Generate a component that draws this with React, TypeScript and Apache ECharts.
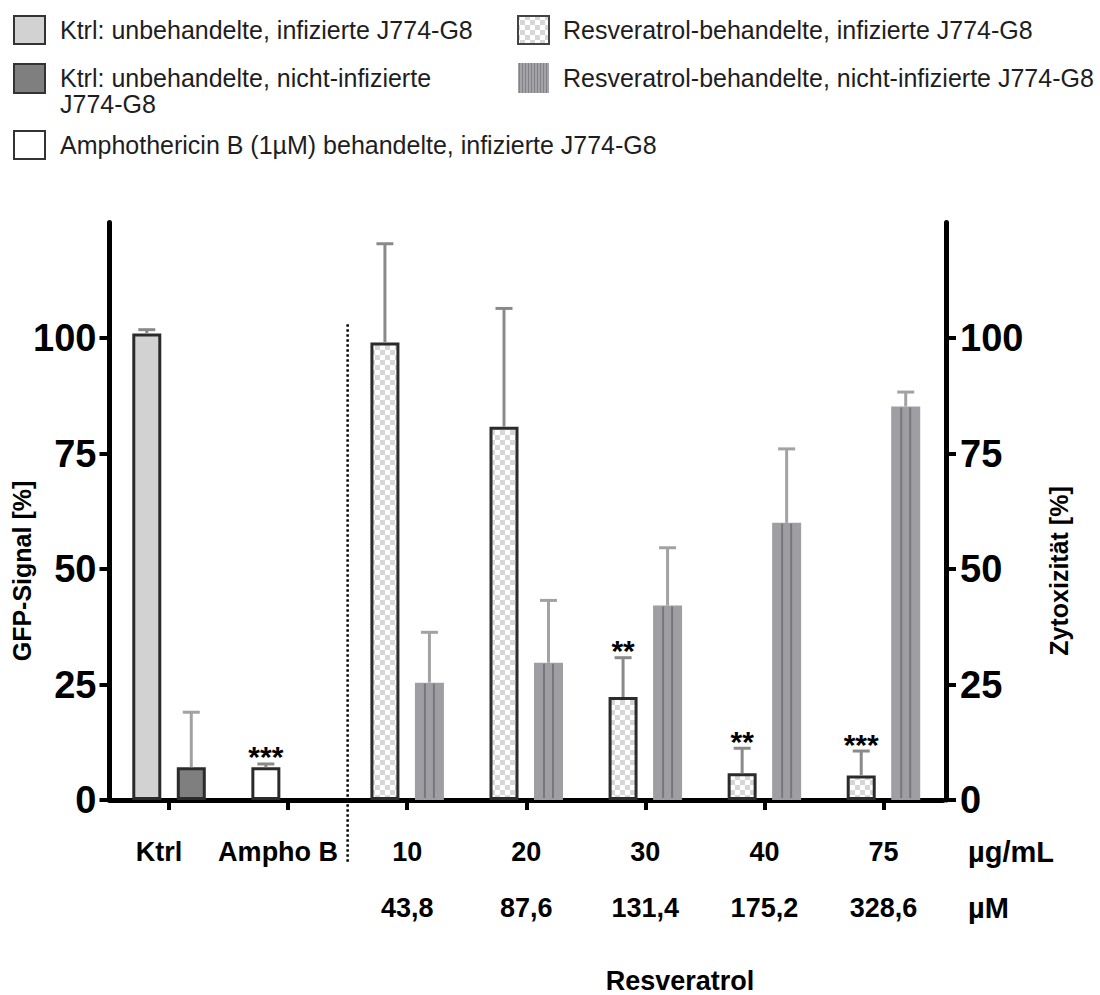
import React, { useEffect, useRef } from 'react';
import * as echarts from 'echarts';

// ---- data -------------------------------------------------------------
const categories = ['Ktrl', 'Ampho B', '10', '20', '30', '40', '75'];
const concentrationsMicroMolar = ['', '', '43,8', '87,6', '131,4', '175,2', '328,6'];

// GFP signal of infected J774-G8 cells (left axis)
const gfpSignal = [101.0, 7.1, 99.0, 80.8, 22.3, 5.8, 5.3];
const gfpSignalError = [0.8, 0.7, 21.4, 25.6, 8.5, 5.4, 5.3];

// cytotoxicity on non-infected J774-G8 cells (right axis)
const cytotoxicity: (number | null)[] = [7.1, null, 25.4, 29.7, 42.1, 60.0, 85.2];
const cytotoxicityError: (number | null)[] = [11.9, null, 10.9, 13.5, 12.5, 16.0, 3.1];

const significance = ['', '***', '', '', '**', '**', '***'];
const yTickValues = [0, 25, 50, 75, 100];

// ---- styling constants -----------------------------------------------
const FONT = '"Liberation Sans", Arial, Helvetica, sans-serif';
const BAR_W = 29;
const BAR_GAP_PX = 15.5;
const SLOT_OFFSET = (BAR_W + BAR_GAP_PX) / 2;
const BORDER = '#2b2b2b';
const LIGHT_GRAY = '#d2d2d2';
const DARK_GRAY = '#7f7f7f';
const BAR_GRAY = '#9e9ea3';
const STRIPE = '#77777c';

function checkerPattern() {
  const c = document.createElement('canvas');
  c.width = 10;
  c.height = 10;
  const g = c.getContext('2d')!;
  g.fillStyle = '#ffffff';
  g.fillRect(0, 0, 10, 10);
  g.fillStyle = '#d6d6d6';
  g.fillRect(0, 0, 5, 5);
  g.fillRect(5, 5, 5, 5);
  return { image: c, repeat: 'repeat', imageWidth: 10, imageHeight: 10 } as any;
}

function stripePattern() {
  const c = document.createElement('canvas');
  c.width = 3;
  c.height = 4;
  const g = c.getContext('2d')!;
  g.fillStyle = '#a4a4a8';
  g.fillRect(0, 0, 3, 4);
  g.fillStyle = '#838387';
  g.fillRect(0, 0, 1, 4);
  return { image: c, repeat: 'repeat', imageWidth: 3, imageHeight: 4 } as any;
}

export default function App() {
  const ref = useRef<HTMLDivElement>(null);

  useEffect(() => {
    if (!ref.current) return;
    const chart = echarts.init(ref.current, null, { renderer: 'svg' });
    const checker = checkerPattern();
    const stripes = stripePattern();

    const infectedData = gfpSignal.map((v, i) => {
      const fill = i === 0 ? LIGHT_GRAY : i === 1 ? '#ffffff' : checker;
      return { value: v, itemStyle: { color: fill, borderColor: BORDER, borderWidth: 3 } };
    });
    const cytoData = cytotoxicity.map((v, i) => {
      if (v == null) return '-';
      const fill = i === 0 ? DARK_GRAY : BAR_GRAY;
      const border = i === 0 ? BORDER : BAR_GRAY;
      return { value: v, itemStyle: { color: fill, borderColor: border, borderWidth: i === 0 ? 3 : 2 } };
    });

    const errorData: number[][] = [];
    gfpSignal.forEach((v, i) => errorData.push([i, 0, v, gfpSignalError[i]]));
    cytotoxicity.forEach((v, i) => {
      if (v != null) errorData.push([i, 1, v, cytotoxicityError[i] as number]);
    });

    const stripeData: number[][] = [];
    cytotoxicity.forEach((v, i) => {
      if (v != null && i >= 2) stripeData.push([i, v]);
    });

    const axisLabelBold = { fontFamily: FONT, fontWeight: 'bold' as const, color: '#000' };

    const yAxisBase = {
      type: 'value' as const,
      min: 0,
      max: 125,
      interval: 25,
      splitLine: { show: false },
      axisLine: { show: true, lineStyle: { color: '#000', width: 5 } },
      axisTick: { show: true, inside: false, length: 10, lineStyle: { color: '#000', width: 4 }, customValues: yTickValues },
      axisLabel: { ...axisLabelBold, fontSize: 38, customValues: yTickValues },
    };

    const legendText = (x: number, y: number, text: string, extra: any = {}) => ({
      type: 'text',
      x,
      y,
      style: { text, fontFamily: FONT, fontSize: 25, fill: '#1e1e1e', align: 'left', verticalAlign: 'middle', ...extra },
    });
    const legendBox = (x: number, y: number, fill: any, stroke: string | null, h = 28) => ({
      type: 'rect',
      shape: { x, y, width: 31, height: h },
      style: { fill, stroke: stroke ?? undefined, lineWidth: stroke ? 2 : 0 },
    });
    const boldText = (x: number, y: number, text: string, size: number, align = 'left') => ({
      type: 'text',
      x,
      y,
      style: { text, fontFamily: FONT, fontWeight: 'bold', fontSize: size, fill: '#000', align, verticalAlign: 'middle' },
    });

    const option: any = {
      animation: false,
      textStyle: { fontFamily: FONT },
      grid: { left: 109.5, right: 157, top: 222.5, bottom: 195, containLabel: false },
      xAxis: [
        {
          type: 'category',
          data: categories,
          axisLine: { show: true, lineStyle: { color: '#000', width: 5 } },
          axisTick: { show: true, alignWithLabel: true, length: 10, lineStyle: { color: '#000', width: 4 } },
          axisLabel: {
            ...axisLabelBold,
            fontSize: 27,
            margin: 38,
            interval: 0,
            formatter: (v: string, i: number) => (i < 2 ? `{shift|${v}}` : v),
            rich: { shift: { ...axisLabelBold, fontSize: 27, padding: [0, 20, 0, 0] } },
          },
        },
        {
          type: 'category',
          data: categories,
          position: 'bottom',
          axisLine: { show: false },
          axisTick: { show: false },
          axisLabel: {
            ...axisLabelBold,
            fontSize: 27,
            margin: 94,
            interval: 0,
            formatter: (_v: string, i: number) => concentrationsMicroMolar[i],
          },
        },
      ],
      yAxis: [
        { ...yAxisBase, position: 'left', axisLabel: { ...yAxisBase.axisLabel, margin: 13 } },
        { ...yAxisBase, position: 'right', offset: 3, axisLabel: { ...yAxisBase.axisLabel, margin: 14 } },
      ],
      series: [
        {
          name: 'GFP-Signal',
          type: 'bar',
          xAxisIndex: 0,
          yAxisIndex: 0,
          barWidth: BAR_W,
          barGap: `${(BAR_GAP_PX / BAR_W) * 100}%`,
          data: infectedData,
          z: 2,
        },
        {
          name: 'Zytotoxizität',
          type: 'bar',
          xAxisIndex: 0,
          yAxisIndex: 1,
          barWidth: BAR_W,
          barGap: `${(BAR_GAP_PX / BAR_W) * 100}%`,
          data: cytoData,
          z: 2,
        },
        {
          // vertical hatch lines inside the resveratrol cytotoxicity bars
          type: 'custom',
          xAxisIndex: 0,
          yAxisIndex: 1,
          z: 3,
          clip: false,
          encode: { x: 0, y: 1 },
          data: stripeData,
          renderItem: (_p: any, api: any) => {
            const cat = api.value(0);
            const base = api.coord([cat, 0]);
            const top = api.coord([cat, api.value(1)]);
            const cx = base[0] + SLOT_OFFSET;
            return {
              type: 'group',
              children: [-4.5, 4.5].map((dx) => ({
                type: 'line',
                shape: { x1: cx + dx, y1: base[1] - 2, x2: cx + dx, y2: top[1] + 1 },
                style: { stroke: STRIPE, lineWidth: 2 },
              })),
            };
          },
        },
        {
          // error bars and significance marks
          type: 'custom',
          xAxisIndex: 0,
          yAxisIndex: 0,
          z: 4,
          clip: false,
          encode: { x: 0, y: 2 },
          data: errorData,
          renderItem: (_p: any, api: any) => {
            const cat = api.value(0);
            const slot = api.value(1);
            const v = api.value(2);
            const e = api.value(3);
            const base = api.coord([cat, v]);
            const top = api.coord([cat, v + e]);
            const x = base[0] + (slot === 0 ? -SLOT_OFFSET : SLOT_OFFSET);
            const color = slot === 0 ? '#8a8a8a' : '#a2a2a2';
            const children: any[] = [
              { type: 'line', shape: { x1: x, y1: base[1], x2: x, y2: top[1] }, style: { stroke: color, lineWidth: 3 } },
              { type: 'line', shape: { x1: x - 8.5, y1: top[1], x2: x + 8.5, y2: top[1] }, style: { stroke: color, lineWidth: 3 } },
            ];
            const star = slot === 0 ? significance[cat] : '';
            if (star) {
              children.push({
                type: 'text',
                x,
                y: top[1] - 7,
                style: { text: star, fontFamily: FONT, fontWeight: 'bold', fontSize: 30, fill: '#000', align: 'center', verticalAlign: 'middle' },
              });
            }
            return { type: 'group', children };
          },
        },
        {
          // dotted divider between the controls and the resveratrol groups
          type: 'custom',
          xAxisIndex: 0,
          yAxisIndex: 0,
          z: 4,
          clip: false,
          encode: { x: 0, y: 2 },
          data: [[1, 2, 103]],
          renderItem: (_p: any, api: any) => {
            const a = api.coord([api.value(0), api.value(2)]);
            const b = api.coord([api.value(1), api.value(2)]);
            const floor = api.coord([api.value(0), 0]);
            const x = (a[0] + b[0]) / 2;
            return {
              type: 'line',
              shape: { x1: x, y1: a[1], x2: x, y2: floor[1] + 62 },
              style: { stroke: '#000', lineWidth: 2.5, lineDash: [2.5, 2.5] },
            };
          },
        },
      ],
      graphic: [
        // axis titles
        {
          type: 'text',
          x: 22,
          y: 571,
          rotation: Math.PI / 2,
          style: { text: 'GFP-Signal [%]', fontFamily: FONT, fontWeight: 'bold', fontSize: 25, fill: '#000', align: 'center', verticalAlign: 'middle' },
        },
        {
          type: 'text',
          x: 1059,
          y: 571,
          rotation: Math.PI / 2,
          style: { text: 'Zytoxizität [%]', fontFamily: FONT, fontWeight: 'bold', fontSize: 25, fill: '#000', align: 'center', verticalAlign: 'middle' },
        },
        // units of the two label rows
        boldText(968, 852, 'µg/mL', 29),
        boldText(968, 908, 'µM', 29),
        boldText(680, 981, 'Resveratrol', 27, 'center'),
        // legend
        legendBox(14, 16, LIGHT_GRAY, '#333'),
        legendText(60, 30, 'Ktrl: unbehandelte, infizierte J774-G8'),
        legendBox(518, 16, checker, '#444'),
        legendText(563, 30, 'Resveratrol-behandelte, infizierte J774-G8'),
        legendBox(14, 64, DARK_GRAY, '#333', 29),
        legendText(60, 65, 'Ktrl: unbehandelte, nicht-infizierte\nJ774-G8', { verticalAlign: 'top', lineHeight: 26 }),
        legendBox(518, 63, stripes, null, 30),
        legendText(563, 78, 'Resveratrol-behandelte, nicht-infizierte J774-G8'),
        legendBox(14, 131, '#ffffff', '#333'),
        legendText(60, 145, 'Amphothericin B (1µM) behandelte, infizierte J774-G8'),
      ],
    };

    chart.setOption(option);
    return () => chart.dispose();
  }, []);

  return <div ref={ref} style={{ position: 'fixed', left: 0, top: 0, width: 1100, height: 995, background: '#fff' }} />;
}
